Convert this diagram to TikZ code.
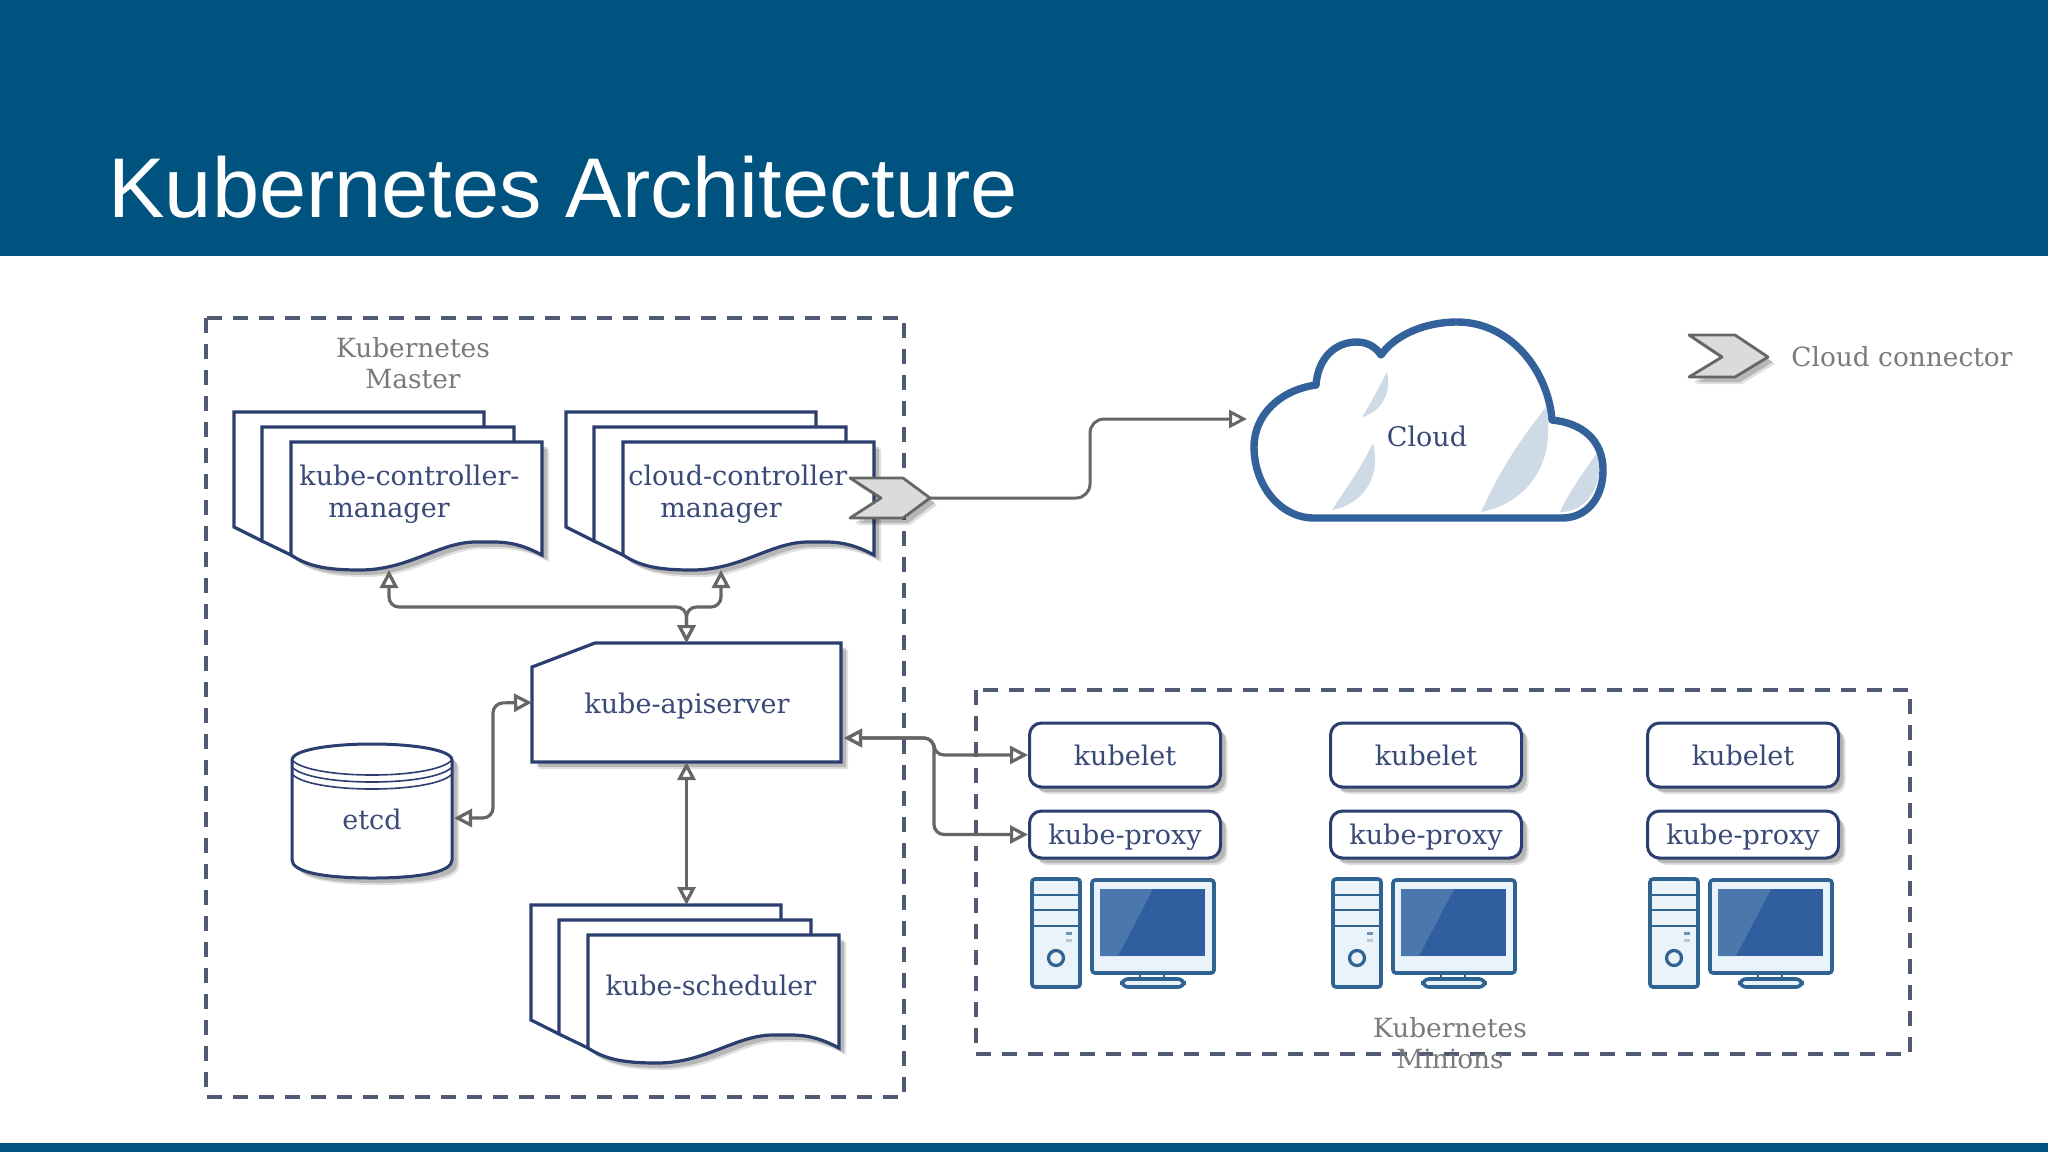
\documentclass[tikz,border=0pt]{standalone}
\usepackage{fontspec}
\setmainfont{DejaVu Serif}
\newfontfamily\titlefont{Liberation Sans}
\usetikzlibrary{arrows.meta,shadows,calc}
\definecolor{headblue}{HTML}{00527F}
\definecolor{nav}{HTML}{2C3E70}
\definecolor{labnav}{HTML}{3A4A78}
\definecolor{labgray}{HTML}{7A7A7A}
\definecolor{dashcol}{HTML}{505A72}
\definecolor{connector}{HTML}{666666}
\definecolor{cloudblue}{HTML}{33619A}
\definecolor{cloudlite}{HTML}{CFDAE7}
\definecolor{pcline}{HTML}{2F6391}
\definecolor{pcfill}{HTML}{EAF3FA}
\definecolor{scrA}{HTML}{4A78AD}
\definecolor{scrB}{HTML}{305E9F}
\tikzset{
  softshadow/.style={drop shadow={shadow xshift=3.5pt,shadow yshift=-3.5pt,fill=black,opacity=.12},
                     drop shadow={shadow xshift=2.5pt,shadow yshift=-2.5pt,fill=black,opacity=.18}},
  page/.style={draw=nav,line width=1.6pt,fill=white,line join=miter},
  dashbox/.style={draw=dashcol,line width=1.6pt,dash pattern=on 7.5pt off 5.5pt},
  biarrow/.style={draw=connector,line width=1.6pt,rounded corners=5pt,
    {Triangle[fill=white,length=9pt,width=9pt]}-{Triangle[fill=white,length=9pt,width=9pt]}},
  lab/.style={text=labnav,font=\fontsize{13.5}{16}\selectfont,inner sep=0pt,anchor=base},
  graylab/.style={text=labgray,font=\fontsize{13.2}{15.5}\selectfont,inner sep=0pt,align=center},
  pill/.style={draw=nav,line width=1.5pt,fill=white,rounded corners=6pt,inner sep=0pt,
    minimum width=95.5pt,softshadow},
  ghost/.style={inner sep=0pt,outer sep=0pt,rectangle},
  pcpart/.style={draw=pcline,line width=1.8pt,fill=pcfill,rounded corners=1.5pt},
  chev/.style={draw=connector,line width=1.4pt,fill=black!14,line join=round,softshadow},
}
\newcommand{\docstack}{%
  \path[page] (0,0) -- (250,0) -- (250,60) -- (28,129) -- (0,115) -- cycle;
  \path[page] (28,15) -- (280,15) -- (280,60) -- (57,143) -- (28,129) -- cycle;
  \path[page,softshadow] (57,30) -- (308,30) -- (308,143)
     .. controls (280,128) and (265,130) .. (242,130)
     .. controls (205,130) and (175,158) .. (126,158)
     .. controls (95,158) and (75,155) .. (57,143) -- cycle;
}
\newcommand{\cloudoutline}{(1314,518)
  .. controls (1280,518) and (1254,485) .. (1254,447)
  .. controls (1254,415) and (1280,390) .. (1316,385)
  .. controls (1318,358) and (1335,342) .. (1357,342)
  .. controls (1367,342) and (1376,347) .. (1381,355)
  .. controls (1395,335) and (1425,322) .. (1457,322)
  .. controls (1510,322) and (1548,370) .. (1552,420)
  .. controls (1582,423) and (1603,440) .. (1603,470)
  .. controls (1603,500) and (1585,518) .. (1562,518) -- cycle}
\begin{document}
\begin{tikzpicture}[x=0.5pt,y=-0.5pt]
\useasboundingbox (0,0) rectangle (2048,1152);
\fill[white] (0,0) rectangle (2048,1152);
\fill[headblue] (0,0) rectangle (2048,256);
\fill[headblue] (0,1143) rectangle (2048,1152);
\node[anchor=base west,inner sep=0pt,text=white,font=\titlefont\fontsize{42.4}{50}\selectfont] (title) at (108,217) {Kubernetes Architecture};

% group frames
\draw[dashbox] (206,318) rectangle (904,1097);
\draw[dashbox] (976,690) rectangle (1910,1054);

% document stacks
\begin{scope}[shift={(234,412)}]\docstack\end{scope}
\begin{scope}[shift={(566,412)}]\docstack\end{scope}
\begin{scope}[shift={(531,905)}]\docstack\end{scope}

\node[ghost,minimum width=125.5pt,minimum height=56.5pt] (ctrl) at (416.5,498.5) {};
\node[ghost,minimum width=125.5pt,minimum height=56.5pt] (cctrl) at (748.5,498.5) {};
\node[ghost,minimum width=125pt,minimum height=72pt] (sched) at (656,977) {};

\node[lab,anchor=base west] (ctrllab) at (299,485) {kube-controller-};
\node[lab] (ctrllab2) at (389,517) {manager};
\node[lab,anchor=base west] (cctrllab) at (628,485) {cloud-controller};
\node[lab] (cctrllab2) at (721,517) {manager};
\node[lab] (schedlab) at (711,995) {kube-scheduler};

% kube-apiserver
\path[page,softshadow] (532,667) -- (595,643) -- (841,643) -- (841,762) -- (532,762) -- cycle;
\node[ghost,minimum width=154.5pt,minimum height=59.5pt] (api) at (686.5,702.5) {};
\node[lab] (apilab) at (687,713) {kube-apiserver};

% etcd
\path[draw=nav,line width=1.5pt,fill=white,softshadow] (292,760)
  .. controls (292,750) and (330,744) .. (372,744)
  .. controls (414,744) and (452,750) .. (452,760)
  -- (452,860) .. controls (452,872) and (420,878) .. (372,878)
  .. controls (324,878) and (292,872) .. (292,860) -- cycle;
\foreach \yy in {0,7,14}
  \draw[nav,line width=.8pt] (292,760+\yy) .. controls (310,780+\yy) and (434,780+\yy) .. (452,760+\yy);
\node[ghost,minimum width=80pt,minimum height=67pt] (etcd) at (372,811) {};
\node[lab] (etcdlab) at (372,829) {etcd};

% cloud
\begin{scope}
  \clip \cloudoutline;
  \fill[white] (1240,310) rectangle (1620,530);
  \fill[cloudlite] (1387,372) .. controls (1380,385) and (1370,405) .. (1362,417) .. controls (1380,412) and (1392,395) .. (1387,372) -- cycle;
  \fill[cloudlite] (1373,443) .. controls (1360,470) and (1345,490) .. (1332,510) .. controls (1360,505) and (1382,480) .. (1373,443) -- cycle;
  \fill[cloudlite] (1546,407) .. controls (1520,440) and (1500,470) .. (1481,512) .. controls (1520,505) and (1558,470) .. (1546,407) -- cycle;
  \fill[cloudlite] (1597,453) .. controls (1585,470) and (1570,490) .. (1560,512) .. controls (1590,512) and (1605,480) .. (1597,453) -- cycle;
\end{scope}
\draw[cloudblue,line width=3.7pt,line join=round] \cloudoutline;
\node[lab] (cloudlab) at (1427,446) {Cloud};

% minion columns
\foreach \c/\dx in {a/0,b/301,c/618}{
  \begin{scope}[shift={(\dx,0)}]
    \node[pill,minimum height=32pt] (kubelet\c) at (1125,755) {};
    \node[lab] at (1125,765) {kubelet};
    \node[pill,minimum height=23.5pt] (proxy\c) at (1125,834.5) {};
    \node[lab] at (1125,844) {kube-proxy};
    % tower
    \path[pcpart] (1032,879) rectangle (1080,987);
    \draw[pcline,line width=1.1pt] (1032,895) -- (1080,895) (1032,910) -- (1080,910) (1032,926) -- (1080,926);
    \fill[pcline!70] (1066,932) rectangle (1072,935);
    \fill[pcline!35] (1066,939) rectangle (1072,942);
    \draw[pcline,line width=1.6pt] (1056,958) circle[radius=7.5];
    % monitor
    \path[pcpart] (1092,880) rectangle (1214,973);
    \fill[scrB] (1100,889) rectangle (1205,956);
    \fill[scrA] (1100,889) -- (1153,889) -- (1118,956) -- (1100,956) -- cycle;
    \draw[pcline,line width=1.2pt] (1140,973) -- (1140,979) (1164,973) -- (1164,979);
    \path[pcpart,rounded corners=3pt] (1122,979) rectangle (1184,987);
  \end{scope}
}

% named ports
\coordinate (ctrlS) at (389,570);
\coordinate (cctrlS) at (721,570);
\coordinate (etcdE) at (454,818);
\coordinate (apiE) at (844,738);
\coordinate (cloudW) at (1247,419);

% chevrons
\path[chev] (850,478) -- (903,478) -- (930,498) -- (903,518) -- (850,518) -- (881,498) -- cycle;
\coordinate (chevtip) at (930,498);
\path[chev] (1689,335) -- (1735,335) -- (1768,357) -- (1735,377) -- (1689,377) -- (1722,357) -- cycle;

% connectors
\draw[biarrow] (ctrlS) -- (389,607) -- (686.5,607) -- (api.north);
\draw[biarrow] (cctrlS) -- (721,607) -- (686.5,607) -- (api.north);
\draw[biarrow] (etcdE) -- (493,818) -- (493,703) -- (api.west);
\draw[biarrow,rounded corners=0pt] (api.south) -- (sched.north -| api.south);
\draw[biarrow] (apiE) -- (934,738) -- (934,755) -- (kubeleta.west);
\draw[biarrow] (apiE) -- (934,738) -- (934,834.5) -- (proxya.west);
\draw[draw=connector,line width=1.5pt,rounded corners=7pt,-{Triangle[fill=white,length=9pt,width=9pt]}]
  (chevtip) -- (1090,498) -- (1090,419) -- (cloudW);

% texts on top
\node[graylab] (masterlab) at (413,363) {Kubernetes\\Master};
\node[graylab] (minionlab) at (1450,1043) {Kubernetes\\Minions};
\node[anchor=base west,inner sep=0pt,text=labgray,font=\fontsize{13.2}{16}\selectfont] (legendlab) at (1791,366) {Cloud connector};
\end{tikzpicture}
\end{document}
